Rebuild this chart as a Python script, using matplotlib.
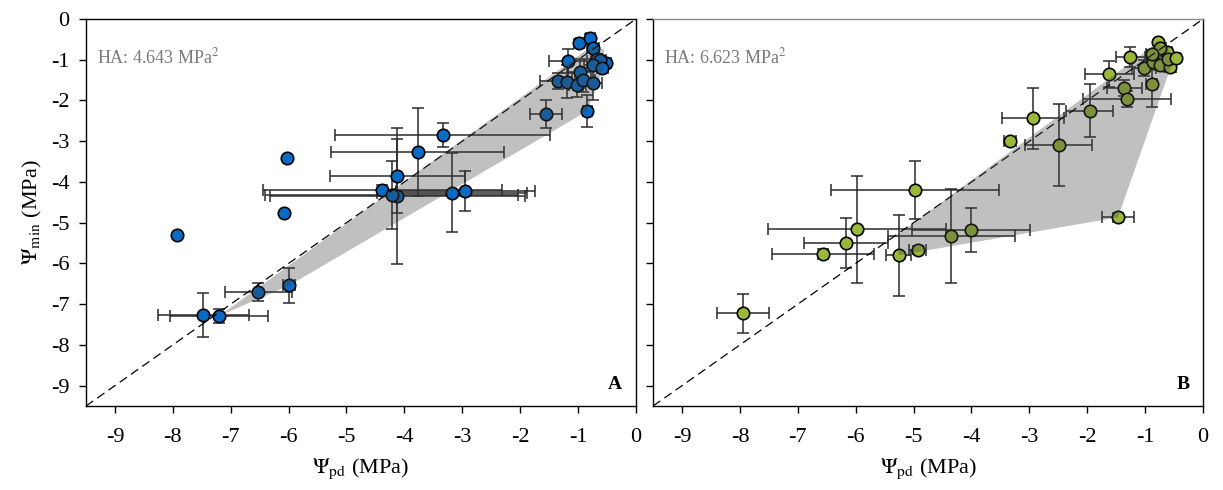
import matplotlib
matplotlib.use("Agg")
import matplotlib.pyplot as plt
from matplotlib.patches import Polygon

plt.rcParams["font.family"] = ["Liberation Serif", "DejaVu Serif"]
plt.rcParams["mathtext.fontset"] = "stix"
plt.rcParams["axes.unicode_minus"] = False

# ---- Panel A: species means (Psi_pd, Psi_min) with SD ----
a_x = [-6.02, -6.08, -7.92, -6.52, -5.99, -7.47, -7.20, -3.34, -3.77, -4.12,
       -4.12, -4.38, -4.22, -3.18, -2.95, -1.55, -0.84, -0.79, -0.98, -0.74,
       -1.17, -0.51, -0.68, -0.62, -0.74, -0.58, -0.97, -1.35, -1.19, -1.01,
       -0.91, -0.74]
a_y = [-3.40, -4.77, -5.31, -6.70, -6.54, -7.26, -7.29, -2.85, -3.26, -3.86,
       -4.34, -4.20, -4.32, -4.26, -4.22, -2.33, -2.26, -0.46, -0.60, -0.72,
       -1.03, -1.09, -0.97, -1.00, -1.13, -1.20, -1.29, -1.52, -1.54, -1.62,
       -1.50, -1.58]
a_xerr = [0, 0, 0, 0.58, 0.10, 0.78, 0.85, 1.85, 1.49, 1.16,
          2.20, 2.06, 2.18, 1.30, 1.20, 0.28, 0.08, 0.08, 0.05, 0.10,
          0.33, 0.08, 0.10, 0.10, 0.15, 0.10, 0.20, 0.30, 0.20, 0.15,
          0.20, 0.15]
a_yerr = [0, 0, 0, 0.23, 0.42, 0.54, 0.18, 0.29, 1.08, 0.91,
          1.67, 0.12, 0.84, 0.96, 0.49, 0.35, 0.40, 0.10, 0.10, 0.10,
          0.30, 0.08, 0.10, 0.10, 0.15, 0.10, 0.30, 0.20, 0.40, 0.30,
          0.30, 0.40]
a_hull_x = [-7.20, -5.99, -0.84, -0.55, -0.55, -0.75]
a_hull_y = [-7.29, -6.54, -2.26, -1.15, -0.75, -0.65]
a_area = "4.643"

# ---- Panel B ----
b_x = [-7.94, -6.56, -6.17, -5.98, -5.26, -4.93, -4.97, -3.33, -2.49, -4.35,
       -4.01, -2.94, -1.47, -1.26, -1.62, -1.96, -1.36, -1.32, -0.89, -1.02,
       -0.86, -0.75, -0.63, -0.57, -0.77, -0.74, -0.89, -0.60, -0.47]
b_y = [-7.22, -5.77, -5.50, -5.16, -5.80, -5.67, -4.20, -2.99, -3.09, -5.32,
       -5.18, -2.44, -4.87, -0.93, -1.35, -2.25, -1.70, -1.97, -1.60, -1.21,
       -1.06, -1.12, -0.82, -1.19, -0.56, -0.70, -0.86, -0.98, -0.95]
b_xerr = [0.45, 0.88, 0.73, 1.54, 0.22, 0.15, 1.45, 0.10, 0.58, 1.10,
          1.02, 0.54, 0.28, 0.25, 0.42, 0.41, 0.30, 0.76, 0.10, 0.20,
          0.10, 0.10, 0.10, 0.10, 0.05, 0.10, 0.10, 0.10, 0.08]
b_yerr = [0.48, 0.13, 0.62, 1.31, 1.00, 0.10, 0.72, 0.05, 1.00, 1.15,
          0.53, 0.75, 0.12, 0.25, 0.33, 0.65, 0.20, 0.20, 0.57, 0.20,
          0.10, 0.10, 0.10, 0.10, 0.05, 0.10, 0.10, 0.10, 0.08]
b_hull_x = [-5.26, -1.47, -0.55, -0.60, -0.80, -5.26]
b_hull_y = [-5.80, -4.87, -1.15, -0.70, -0.60, -5.28]
b_area = "6.623"

ticks = [-9, -8, -7, -6, -5, -4, -3, -2, -1, 0]

fig = plt.figure(figsize=(12.23, 4.90), dpi=100)
axA = fig.add_axes([0.0703, 0.1714, 0.4497, 0.7898])
axB = fig.add_axes([0.5340, 0.1714, 0.4497, 0.7898])


def draw_panel(ax, xs, ys, xe, ye, hx, hy, color, area, letter, ylabels):
    ax.set_xlim(-9.5, 0)
    ax.set_ylim(-9.5, 0)
    ax.plot([-9.5, 0], [-9.5, 0], color="black", lw=0.9,
            dashes=(7, 4), zorder=4)
    ax.errorbar(xs, ys, xerr=xe, yerr=ye, fmt="none", ecolor="#2b2b2b",
                elinewidth=1.1, capsize=4, capthick=1.1, zorder=2)
    ax.scatter(xs, ys, s=80, color=color, edgecolor="black",
               linewidth=1.2, zorder=3)
    hull = Polygon(list(zip(hx, hy)), closed=True, facecolor="#404040",
                   edgecolor="none", alpha=0.33, zorder=5)
    ax.add_patch(hull)
    ax.text(0.02, 0.90, "HA: " + area + r" MPa$^2$", transform=ax.transAxes,
            fontsize=13, color="#7a7a7a", va="center", ha="left")
    ax.text(0.975, 0.055, letter, transform=ax.transAxes, fontsize=14,
            fontweight="bold", ha="right", va="center")
    ax.set_xticks(ticks)
    ax.set_yticks(ticks)
    ax.tick_params(direction="out", length=5, width=1, labelsize=16)
    ax.tick_params(axis="x", pad=11)
    ax.tick_params(axis="y", pad=7)
    if not ylabels:
        ax.set_yticklabels([])
    for s in ax.spines.values():
        s.set_linewidth(1.0)
    ax.set_xlabel(r"$\Psi_{\mathrm{pd}}$ (MPa)", fontsize=16, labelpad=7)


draw_panel(axA, a_x, a_y, a_xerr, a_yerr, a_hull_x, a_hull_y,
           "#0a6ac4", a_area, "A", True)
draw_panel(axB, b_x, b_y, b_xerr, b_yerr, b_hull_x, b_hull_y,
           "#9bb83a", b_area, "B", False)
axA.set_ylabel(r"$\Psi_{\mathrm{min}}$ (MPa)", fontsize=16, labelpad=5)
axB.spines["top"].set_color("#8a8a8a")

fig.savefig("out.png", dpi=100)
